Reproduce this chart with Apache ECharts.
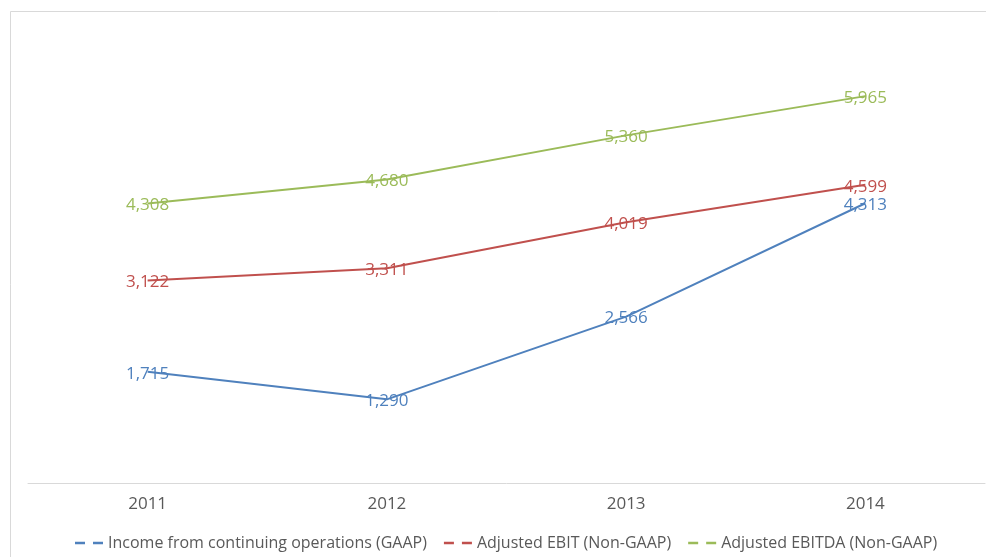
<!DOCTYPE html>
<html>
<head>
<meta charset="utf-8">
<script src="https://cdn.jsdelivr.net/npm/echarts@6/dist/echarts.min.js"></script>
<style>html,body{margin:0;padding:0;background:#fff;}#c{width:986px;height:557px;}</style>
</head>
<body>
<div id="c"></div>
<script>
const categories = ['2011', '2012', '2013', '2014'];
const incomeGAAP = [1715, 1290, 2566, 4313];
const adjEBIT = [3122, 3311, 4019, 4599];
const adjEBITDA = [4308, 4680, 5360, 5965];
const seriesNames = ['Income from continuing operations (GAAP)', 'Adjusted EBIT (Non-GAAP)', 'Adjusted EBITDA (Non-GAAP)'];
const colors = ['#4f81bd', '#c0504d', '#9bbb59'];

function fmt(v) { return String(v).replace(/\B(?=(\d{3})+(?!\d))/g, ','); }
const font = 'Open Sans, Liberation Sans, sans-serif';

function mk(name, data, color) {
  return {
    name: name, type: 'line', data: data, symbol: 'circle', symbolSize: 0, showSymbol: true,
    lineStyle: { color: color, width: 2 }, itemStyle: { color: color },
    label: { show: true, position: 'inside', color: color, fontSize: 17, fontFamily: font,
      offset: [0, 2], formatter: p => fmt(p.value) },
    emphasis: { disabled: true }, z: 2
  };
}

const dashIcon = 'path://M0,0H10V2.4H0Z M18,0H28V2.4H18Z';
const chart = echarts.init(document.getElementById('c'));
chart.setOption({
  animation: false,
  backgroundColor: '#fff',
  graphic: [{ type: 'rect', shape: { x: 10.5, y: 11.5, width: 1000, height: 600 },
    style: { fill: 'none', stroke: '#d9d9d9', lineWidth: 1 }, z: -1 }],
  grid: { left: 28, right: 1, top: 29, bottom: 74 },
  xAxis: {
    type: 'category', data: categories, boundaryGap: true,
    axisLine: { lineStyle: { color: '#d9d9d9', width: 1 } },
    axisTick: { show: false },
    axisLabel: { color: '#595959', fontSize: 17, fontFamily: font, margin: 13 }
  },
  yAxis: { type: 'value', min: 0, max: 7000, show: false, splitLine: { show: false } },
  legend: {
    bottom: 1, left: 70, itemWidth: 28, itemHeight: 2.4, itemGap: 17,
    textStyle: { color: '#595959', fontSize: 16, fontFamily: font },
    data: seriesNames.map(n => ({ name: n, icon: dashIcon }))
  },
  series: [
    mk(seriesNames[0], incomeGAAP, colors[0]),
    mk(seriesNames[1], adjEBIT, colors[1]),
    mk(seriesNames[2], adjEBITDA, colors[2])
  ]
});
</script>
</body>
</html>
